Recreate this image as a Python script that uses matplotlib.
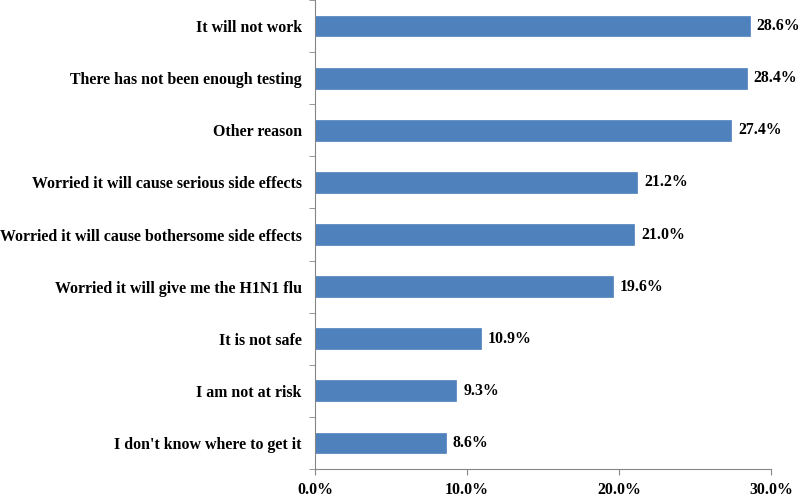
import matplotlib.pyplot as plt

reasons = [
    "It will not work",
    "There has not been enough testing",
    "Other reason",
    "Worried it will cause serious side effects",
    "Worried it will cause bothersome side effects",
    "Worried it will give me the H1N1 flu",
    "It is not safe",
    "I am not at risk",
    "I don't know where to get it",
]
percents = [28.6, 28.4, 27.4, 21.2, 21.0, 19.6, 10.9, 9.3, 8.6]
xticks = [0, 10, 20, 30]

plt.rcParams['font.family'] = ['Liberation Serif', 'DejaVu Serif']
plt.rcParams['font.weight'] = 'bold'
fs = 11.4

fig = plt.figure(figsize=(8, 4.98), dpi=100)
ax = fig.add_axes([315 / 800, 29 / 498, 456 / 800, 469 / 498])

ypos = list(range(len(reasons)))[::-1]
ax.barh(ypos, percents, height=0.4, color='#4F81BD', edgecolor='#4F81BD', linewidth=0.5)

for y, v in zip(ypos, percents):
    ax.text(v + 0.45, y, f"{v:.1f}%", va='center', ha='left', fontsize=fs, fontweight='bold')

ax.set_xlim(0, 30)
ax.set_ylim(-0.5, len(reasons) - 0.5)
ax.set_xticks(xticks)
ax.set_xticklabels([f"{t:.1f}%" for t in xticks], fontsize=fs, fontweight='bold')
ax.set_yticks(ypos)
ax.set_yticklabels(reasons, fontsize=fs, fontweight='bold')

# category separators like Excel: minor ticks between bars
ax.set_yticks([y + 0.5 for y in range(-1, len(reasons))], minor=True)
ax.tick_params(axis='y', which='major', length=0, pad=9.5)
ax.tick_params(axis='y', which='minor', length=4, color='#868686', direction='out')
ax.tick_params(axis='x', length=4, color='#868686', direction='out', pad=5.5)

for side in ['top', 'right']:
    ax.spines[side].set_visible(False)
for side in ['left', 'bottom']:
    ax.spines[side].set_color('#868686')
    ax.spines[side].set_linewidth(0.8)

fig.savefig('out.png', dpi=100)
